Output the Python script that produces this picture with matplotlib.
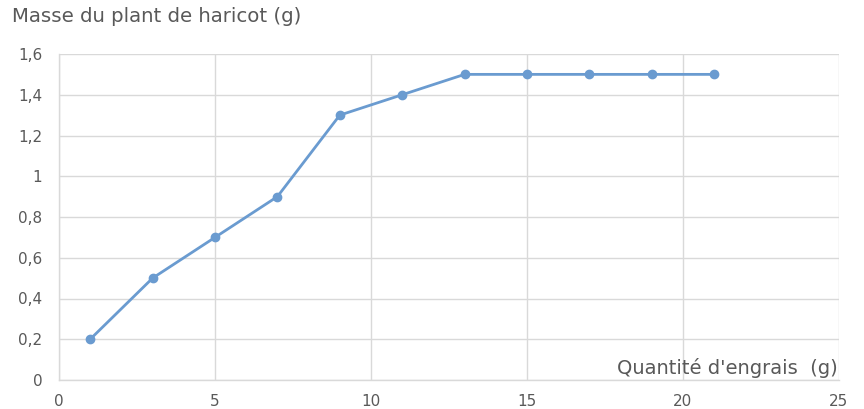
import matplotlib.pyplot as plt
from matplotlib.ticker import FuncFormatter

plt.rcParams['font.family'] = ['DejaVu Sans']

engrais = [1, 3, 5, 7, 9, 11, 13, 15, 17, 19, 21]
masse = [0.2, 0.5, 0.7, 0.9, 1.3, 1.4, 1.5, 1.5, 1.5, 1.5, 1.5]
xticks = [0, 5, 10, 15, 20, 25]
yticks = [0, 0.2, 0.4, 0.6, 0.8, 1.0, 1.2, 1.4, 1.6]

gris = '#595959'
grille = '#D9D9D9'

fig = plt.figure(figsize=(8.64, 4.09), dpi=100)
ax = fig.add_axes([59/864, 1-380/409, 780/864, (380-54)/409])

ax.plot(engrais, masse, color='#6A9BD0', lw=2, marker='o', ms=6, zorder=3)

ax.set_xlim(0, 25)
ax.set_ylim(0, 1.6)
ax.set_xticks(xticks)
ax.set_yticks(yticks)
ax.yaxis.set_major_formatter(FuncFormatter(lambda v, p: ('%g' % round(v, 1)).replace('.', ',')))
ax.grid(True, color=grille, lw=1)
ax.set_axisbelow(True)
for s in ['top', 'right']:
    ax.spines[s].set_visible(False)
for s in ['left', 'bottom']:
    ax.spines[s].set_color(grille)
    ax.spines[s].set_linewidth(1)
ax.tick_params(length=0, labelsize=11, colors=gris)
ax.tick_params(axis='y', pad=12)
ax.tick_params(axis='x', pad=10)

fig.text(12/864, 1-17/409, 'Masse du plant de haricot (g)', fontsize=14.2, color=gris, va='center', ha='left')
ax.text(24.95, 0.06, "Quantité d'engrais  (g)", fontsize=14, color=gris, va='center', ha='right')

fig.savefig('out.png')
